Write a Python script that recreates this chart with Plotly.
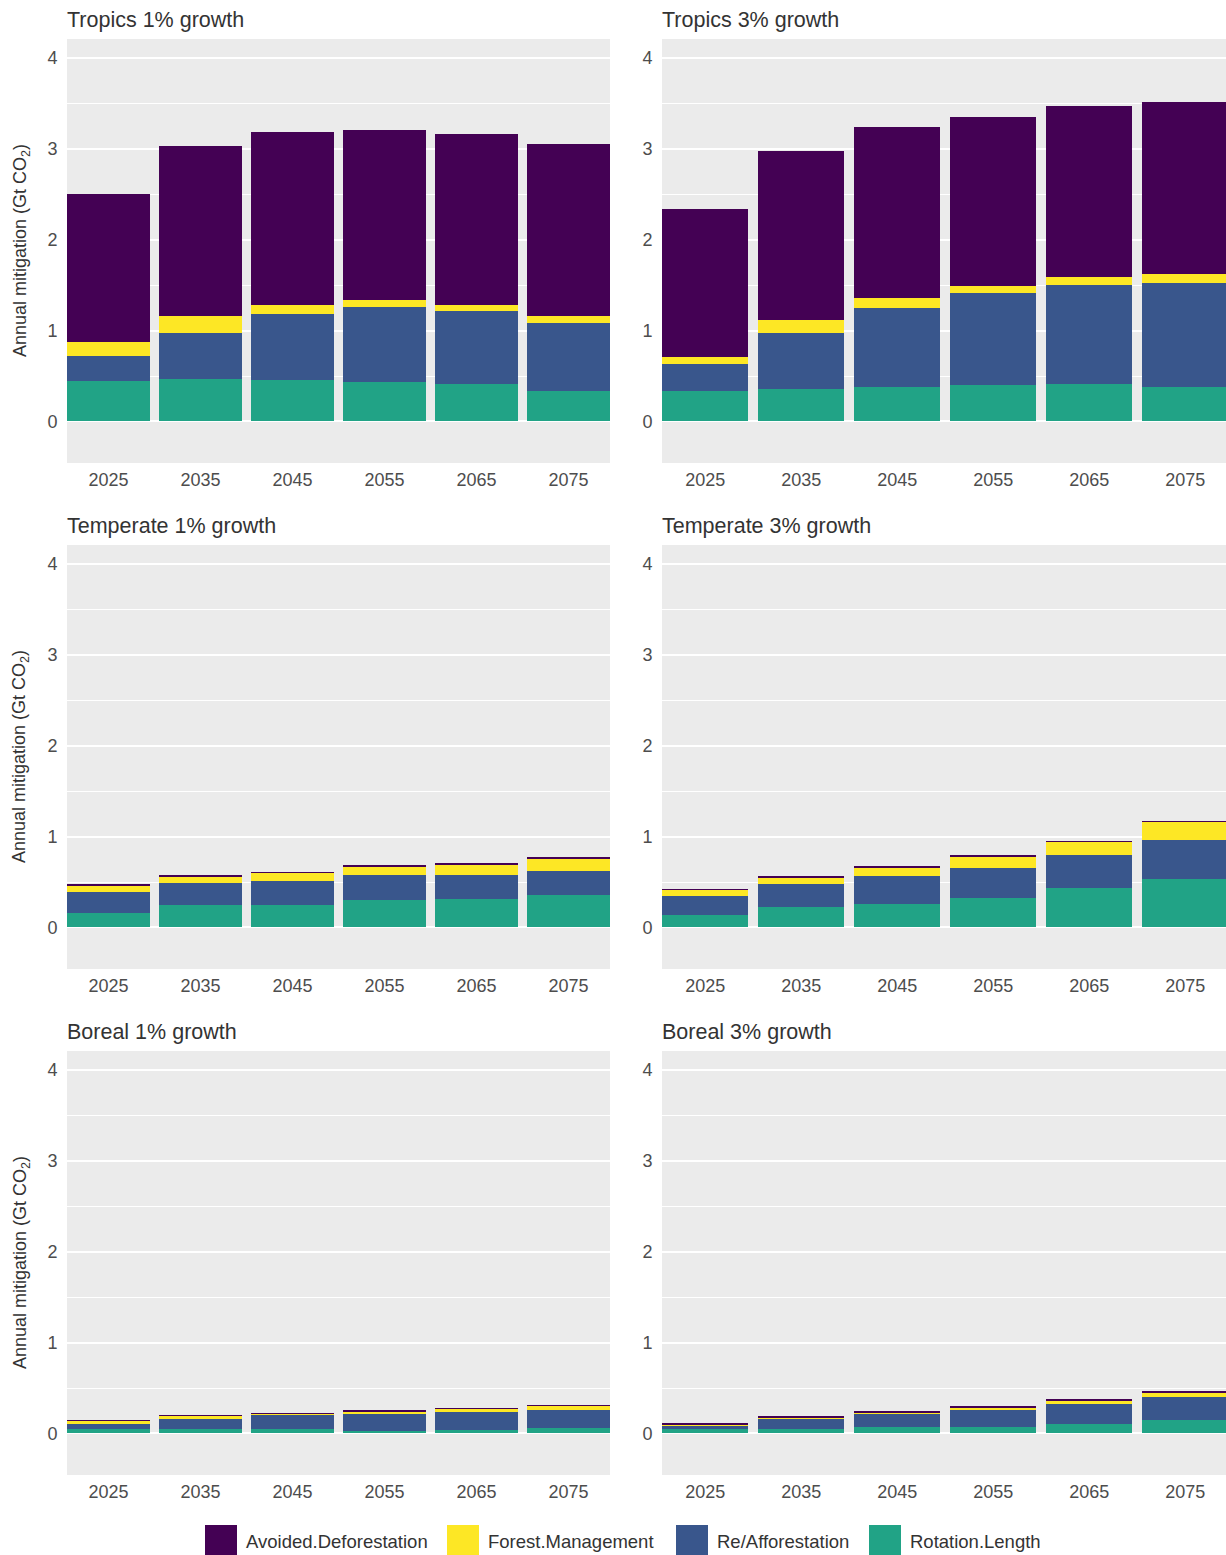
import plotly.graph_objects as go
from plotly.subplots import make_subplots

years = [2025, 2035, 2045, 2055, 2065, 2075]
year_labels = ["2025", "2035", "2045", "2055", "2065", "2075"]

panel_titles = ["Tropics 1% growth", "Tropics 3% growth",
                "Temperate 1% growth", "Temperate 3% growth",
                "Boreal 1% growth", "Boreal 3% growth"]

categories = ["Avoided.Deforestation", "Forest.Management", "Re/Afforestation", "Rotation.Length"]
colors = {"Avoided.Deforestation": "#440154", "Forest.Management": "#FDE725",
          "Re/Afforestation": "#39568C", "Rotation.Length": "#21A386"}

# Tropics 1% growth
trop1_rotation = [0.446, 0.468, 0.457, 0.435, 0.413, 0.336]
trop1_reaff = [0.276, 0.507, 0.728, 0.827, 0.805, 0.749]
trop1_forest = [0.154, 0.188, 0.099, 0.077, 0.066, 0.078]
trop1_avoided = [1.631, 1.873, 1.906, 1.873, 1.884, 1.895]

# Tropics 3% growth
trop3_rotation = [0.336, 0.358, 0.380, 0.402, 0.413, 0.380]
trop3_reaff = [0.298, 0.617, 0.871, 1.014, 1.091, 1.146]
trop3_forest = [0.077, 0.143, 0.110, 0.077, 0.088, 0.099]
trop3_avoided = [1.631, 1.862, 1.884, 1.862, 1.885, 1.895]

# Temperate 1% growth
temp1_rotation = [0.154, 0.242, 0.242, 0.297, 0.308, 0.352]
temp1_reaff = [0.231, 0.242, 0.264, 0.275, 0.275, 0.275]
temp1_forest = [0.080, 0.080, 0.099, 0.102, 0.113, 0.137]
temp1_avoided = [0.004, 0.004, 0.004, 0.004, 0.004, 0.006]

# Temperate 3% growth
temp3_rotation = [0.132, 0.220, 0.253, 0.319, 0.429, 0.538]
temp3_reaff = [0.209, 0.253, 0.308, 0.340, 0.373, 0.429]
temp3_forest = [0.077, 0.080, 0.102, 0.125, 0.143, 0.198]
temp3_avoided = [0.004, 0.004, 0.004, 0.004, 0.006, 0.006]

# Boreal 1% growth
bor1_rotation = [0.050, 0.050, 0.050, 0.029, 0.040, 0.062]
bor1_reaff = [0.055, 0.110, 0.154, 0.187, 0.198, 0.198]
bor1_forest = [0.033, 0.037, 0.015, 0.029, 0.037, 0.047]
bor1_avoided = [0.005, 0.004, 0.004, 0.004, 0.004, 0.005]

# Boreal 3% growth
bor3_rotation = [0.044, 0.044, 0.066, 0.066, 0.099, 0.143]
bor3_reaff = [0.044, 0.110, 0.143, 0.187, 0.220, 0.253]
bor3_forest = [0.015, 0.026, 0.022, 0.036, 0.044, 0.055]
bor3_avoided = [0.006, 0.004, 0.006, 0.005, 0.006, 0.006]

panels = [
    (1, 1, trop1_rotation, trop1_reaff, trop1_forest, trop1_avoided),
    (1, 2, trop3_rotation, trop3_reaff, trop3_forest, trop3_avoided),
    (2, 1, temp1_rotation, temp1_reaff, temp1_forest, temp1_avoided),
    (2, 2, temp3_rotation, temp3_reaff, temp3_forest, temp3_avoided),
    (3, 1, bor1_rotation, bor1_reaff, bor1_forest, bor1_avoided),
    (3, 2, bor3_rotation, bor3_reaff, bor3_forest, bor3_avoided),
]

W, H = 1226, 1555
FONT = "Liberation Sans, Arial, Helvetica, sans-serif"

fig = make_subplots(rows=3, cols=2)

for r, c, rl, ra, fm, ad in panels:
    for name, vals in [("Rotation.Length", rl), ("Re/Afforestation", ra),
                       ("Forest.Management", fm), ("Avoided.Deforestation", ad)]:
        fig.add_trace(go.Bar(x=years, y=vals, name=name, width=9,
                             marker=dict(color=colors[name], line=dict(width=0)),
                             showlegend=False), row=r, col=c)

fig.update_layout(barmode="stack", width=W, height=H,
                  margin=dict(l=0, r=0, t=0, b=0),
                  paper_bgcolor="white", plot_bgcolor="#EBEBEB",
                  font=dict(family=FONT, color="#4D4D4D", size=18))

xdom = {1: [67 / W, 610 / W], 2: [662 / W, 1.0]}
ytops = {1: 39, 2: 545, 3: 1051}
ybots = {1: 463, 2: 969, 3: 1475}
xranges = {1: [2020.5, 2079.5], 2: [2020.5, 2079.25]}

for r in (1, 2, 3):
    for c in (1, 2):
        fig.update_xaxes(row=r, col=c, domain=xdom[c], range=xranges[c],
                         tickvals=years, ticktext=year_labels, showgrid=False,
                         zeroline=False, ticks="outside", ticklen=0, tickcolor="white",
                         tickfont=dict(size=18, color="#4D4D4D"), showline=False)
        fig.update_yaxes(row=r, col=c, domain=[1 - ybots[r] / H, 1 - ytops[r] / H],
                         range=[-0.457, 4.209], tickvals=[0, 1, 2, 3, 4],
                         showgrid=True, gridcolor="white", gridwidth=1.6,
                         minor=dict(tickvals=[0.5, 1.5, 2.5, 3.5], showgrid=True,
                                    gridcolor="white", gridwidth=0.8, ticks=""),
                         zeroline=False, ticks="outside", ticklen=5, tickcolor="white",
                         tickfont=dict(size=18, color="#4D4D4D"), showline=False)

annotations = []
title_pos = [(65, 20), (660, 20), (65, 526), (660, 526), (65, 1032), (660, 1032)]
for t, (px, py) in zip(panel_titles, title_pos):
    annotations.append(dict(text=t, x=px / W, y=1 - py / H, xref="paper", yref="paper",
                            xanchor="left", yanchor="middle", showarrow=False,
                            font=dict(size=21.5, color="#333333", family=FONT)))

for r in (1, 2, 3):
    cy = (ytops[r] + ybots[r]) / 2
    annotations.append(dict(text="Annual mitigation (Gt CO<sub>2</sub>)", x=21 / W,
                            y=1 - cy / H, xref="paper", yref="paper", textangle=-90,
                            xanchor="center", yanchor="middle", showarrow=False,
                            font=dict(size=18, color="#333333", family=FONT)))

# manual legend
shapes = []
legend_keys = [("Avoided.Deforestation", 205), ("Forest.Management", 447),
               ("Re/Afforestation", 676), ("Rotation.Length", 869)]
for name, kx in legend_keys:
    shapes.append(dict(type="rect", xref="paper", yref="paper",
                       x0=kx / W, x1=(kx + 32) / W, y0=1 - 1556 / H, y1=1 - 1525 / H,
                       fillcolor=colors[name], line=dict(width=0)))
    annotations.append(dict(text=name, x=(kx + 39) / W, y=1 - 1541 / H, xref="paper",
                            yref="paper", xanchor="left", yanchor="middle", showarrow=False,
                            font=dict(size=18.5, color="#333333", family=FONT)))

fig.update_layout(annotations=annotations, shapes=shapes)

fig.write_html("out.html")
